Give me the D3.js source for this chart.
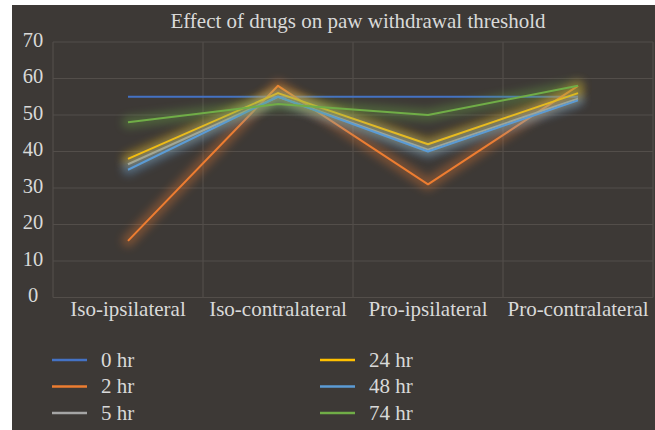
<!DOCTYPE html>
<html>
<head>
<meta charset="utf-8">
<script src="https://cdn.jsdelivr.net/npm/d3@7"></script>
<style>
  body { margin: 0; background: #ffffff; }
  text { font-family: "Liberation Serif", "DejaVu Serif", serif; fill: #d9d9d9; }
</style>
</head>
<body>
<div id="wrapper"></div>
<script>
const categories = ["Iso-ipsilateral", "Iso-contralateral", "Pro-ipsilateral", "Pro-contralateral"]
const seriesNames = ["0 hr", "2 hr", "5 hr", "24 hr", "48 hr", "74 hr"]
const seriesColors = ["#4472c4", "#ed7d31", "#a5a5a5", "#ffc000", "#5b9bd5", "#70ad47"]
const values0 = [55, 55, 55, 55]
const values2 = [15.5, 58, 31, 58]
const values5 = [36.5, 55, 40.5, 54.5]
const values24 = [38, 56, 42, 56]
const values48 = [35, 55, 40, 54]
const values74 = [48, 53, 50, 58]
const yTicks = [0, 10, 20, 30, 40, 50, 60, 70]

const allValues = [values0, values2, values5, values24, values48, values74]
const series = seriesNames.map((name, i) => ({
  name,
  color: seriesColors[i],
  values: allValues[i].map((v, j) => ({ cat: categories[j], v }))
}))

const dimensions = {
  width: 655,
  height: 430,
  margin: { top: 42, right: 2, bottom: 132.5, left: 53 }
}
dimensions.boundedWidth = dimensions.width - dimensions.margin.left - dimensions.margin.right
dimensions.boundedHeight = dimensions.height - dimensions.margin.top - dimensions.margin.bottom

const svg = d3.select("#wrapper")
  .append("svg")
  .attr("width", dimensions.width)
  .attr("height", dimensions.height)

// glow filter
const defs = svg.append("defs")
defs.append("filter")
  .attr("id", "glow")
  .attr("x", "-20%").attr("y", "-50%")
  .attr("width", "140%").attr("height", "200%")
  .append("feGaussianBlur")
  .attr("stdDeviation", 4)

// chart background
svg.append("rect")
  .attr("x", 12)
  .attr("y", 5)
  .attr("width", dimensions.width - 12)
  .attr("height", dimensions.height - 5)
  .attr("fill", "#3d3936")

svg.append("text")
  .attr("x", 358)
  .attr("y", 28)
  .attr("text-anchor", "middle")
  .style("font-size", "21px")
  .text("Effect of drugs on paw withdrawal threshold")

const bounds = svg.append("g")
  .attr("transform", `translate(${dimensions.margin.left},${dimensions.margin.top})`)

const xScale = d3.scaleBand()
  .domain(categories)
  .range([0, dimensions.boundedWidth])

const yScale = d3.scaleLinear()
  .domain([0, 70])
  .range([dimensions.boundedHeight, 0])

// gridlines
bounds.append("g")
  .selectAll("line")
  .data(yTicks)
  .join("line")
    .attr("x1", 0)
    .attr("x2", dimensions.boundedWidth)
    .attr("y1", d => yScale(d))
    .attr("y2", d => yScale(d))
    .attr("stroke", "#534e4a")
    .attr("stroke-width", 1.2)

bounds.append("g")
  .selectAll("line")
  .data(categories.concat(["end"]))
  .join("line")
    .attr("x1", d => d === "end" ? dimensions.boundedWidth : xScale(d))
    .attr("x2", d => d === "end" ? dimensions.boundedWidth : xScale(d))
    .attr("y1", 0)
    .attr("y2", dimensions.boundedHeight)
    .attr("stroke", "#534e4a")
    .attr("stroke-width", 1.2)

// y axis labels
const yAxis = d3.axisLeft(yScale)
  .tickValues(yTicks)
  .tickSize(0)
  .tickPadding(0)

bounds.append("g")
  .call(yAxis)
  .call(g => g.select(".domain").remove())
  .selectAll("text")
    .attr("x", -20)
    .attr("dy", "0.2em")
    .attr("text-anchor", "middle")
    .style("font-size", "20.5px")
    .attr("fill", "#d9d9d9")

// x axis labels
const xAxis = d3.axisBottom(xScale)
  .tickSize(0)
  .tickPadding(0)

bounds.append("g")
  .attr("transform", `translate(0,${dimensions.boundedHeight})`)
  .call(xAxis)
  .call(g => g.select(".domain").remove())
  .selectAll("text")
    .attr("y", 18.5)
    .attr("dy", 0)
    .style("font-size", "21px")
    .attr("fill", "#d9d9d9")

const lineGenerator = d3.line()
  .x(d => xScale(d.cat) + xScale.bandwidth() / 2)
  .y(d => yScale(d.v))

const seriesGroups = bounds.append("g")
  .selectAll("g")
  .data(series)
  .join("g")

seriesGroups.append("path")
  .attr("d", d => lineGenerator(d.values))
  .attr("fill", "none")
  .attr("stroke", d => d.color)
  .attr("stroke-width", 12)
  .attr("stroke-linejoin", "round")
  .attr("stroke-linecap", "round")
  .attr("opacity", 0.34)
  .attr("filter", "url(#glow)")

seriesGroups.append("path")
  .attr("d", d => lineGenerator(d.values))
  .attr("fill", "none")
  .attr("stroke", d => d.color)
  .attr("stroke-width", 2)
  .attr("stroke-linejoin", "round")

// legend
const legend = svg.append("g")
  .selectAll("g")
  .data(series)
  .join("g")
    .attr("transform", (d, i) => `translate(${i < 3 ? 52 : 320},${360 + (i % 3) * 26.5})`)

legend.append("line")
  .attr("x1", 0)
  .attr("x2", 35)
  .attr("stroke", d => d.color)
  .attr("stroke-width", 2.5)

legend.append("text")
  .attr("x", 49)
  .attr("y", 6.5)
  .style("font-size", "21px")
  .text(d => d.name)
</script>
</body>
</html>
